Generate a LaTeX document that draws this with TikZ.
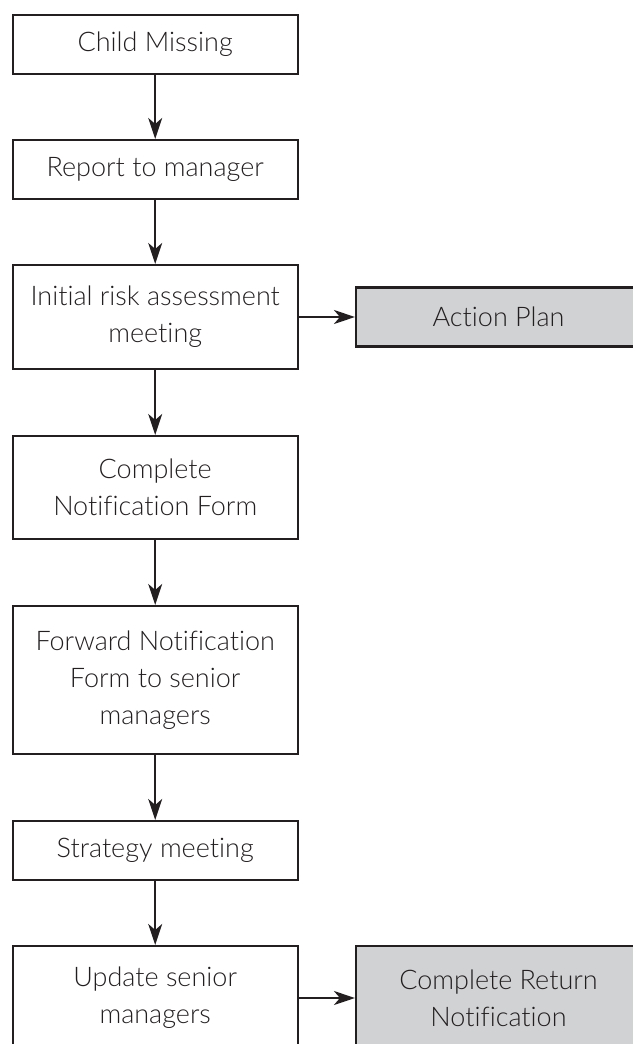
\documentclass[tikz,border=0pt]{standalone}
\usepackage{fontspec}
\setmainfont{Lato Light}[Ligatures=NoCommon]
\usetikzlibrary{arrows.meta}
\definecolor{boxgray}{RGB}{209,210,212}
\definecolor{inkdark}{RGB}{35,31,32}

\begin{document}
\begin{tikzpicture}[
      x=1pt,y=1pt,
      ->,>={Stealth[length=21pt,width=14pt,inset=6pt]},
      line width=2.1pt,color=inkdark,
      flow node/.style={rectangle,draw,minimum width=285pt,minimum height=59pt,
        inner sep=0pt,align=center,font=\fontsize{27}{37}\selectfont},
      side node/.style={flow node,fill=boxgray}
    ]
    \useasboundingbox (0,0) rectangle (632,-1044);

    \node[flow node] (CM) at (155.2,-44.5){Child Missing};
    \node[flow node] (RM) at (155.2,-169.5){Report to manager};
    \node[flow node,minimum height=104pt] (IR) at (155.2,-317){Initial risk assessment\\meeting};
    \node[side node] (AP) at (498.5,-317){Action Plan};
    \node[flow node,minimum height=103pt] (NF) at (155.2,-487.5){Complete\\Notification Form};
    \node[flow node,minimum height=148pt] (FN) at (155.2,-680){Forward Notification\\Form to senior\\managers};
    \node[flow node] (SM) at (155.2,-850.5){Strategy meeting};
    \node[flow node,minimum height=104pt] (US) at (155.2,-998){Update senior\\managers};
    \node[side node,minimum height=104pt] (RN) at (498.5,-998){Complete Return\\Notification};

    \draw
    (CM) edge (RM)
    (RM) edge (IR)
    (IR) edge (AP)
    (IR) edge (NF)
    (NF) edge (FN)
    (FN) edge (SM)
    (SM) edge (US)
    (US) edge (RN);
  \end{tikzpicture}
\end{document}
